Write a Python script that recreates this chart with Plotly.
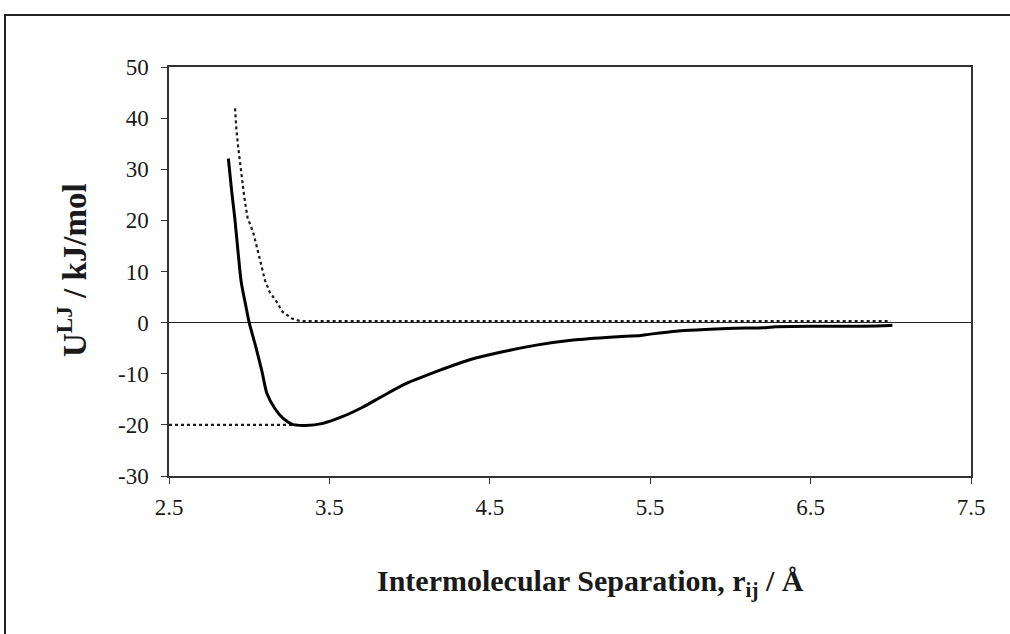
import plotly.graph_objects as go

# Lennard-Jones pair potential, full curve (kJ/mol vs Angstrom)
r_lj = [2.87, 2.89, 2.91, 2.93, 2.95, 2.98, 3.00, 3.04, 3.08, 3.11, 3.16, 3.21,
        3.27, 3.35, 3.46, 3.58, 3.71, 3.83, 3.98, 4.19, 4.37, 4.58, 4.79, 5.02,
        5.27, 5.44, 5.49, 5.69, 5.87, 6.02, 6.22, 6.28, 6.53, 6.74, 6.95, 7.01]
u_lj = [32.1, 25.9, 20.5, 14.0, 8.0, 3.1, 0.0, -4.6, -9.6, -13.8, -16.8, -18.7,
        -19.9, -20.1, -19.7, -18.4, -16.5, -14.4, -11.9, -9.3, -7.3, -5.7, -4.4, -3.4,
        -2.8, -2.5, -2.3, -1.6, -1.3, -1.1, -1.0, -0.8, -0.7, -0.7, -0.6, -0.5]

# Repulsive contribution only
r_rep = [2.912, 2.92, 2.933, 2.948, 2.958, 2.969, 2.979, 2.99, 3.0, 3.025, 3.042,
         3.058, 3.079, 3.098, 3.129, 3.167, 3.208, 3.267, 3.32, 3.5, 4.0, 5.0, 6.0, 7.0]
u_rep = [41.9, 37.8, 33.9, 29.7, 26.9, 24.6, 22.6, 20.5, 19.7, 17.6, 15.5,
         13.2, 10.8, 8.3, 5.9, 4.3, 2.1, 0.8, 0.3, 0.3, 0.3, 0.3, 0.3, 0.3]

# Well depth marker
r_eps = [2.5, 3.3]
u_eps = [-20, -20]

x_ticks = [2.5, 3.5, 4.5, 5.5, 6.5, 7.5]
y_ticks = [-30, -20, -10, 0, 10, 20, 30, 40, 50]

SERIF = "Liberation Serif, DejaVu Serif, serif"
INK = "#1a1a1a"

fig = go.Figure()
fig.add_trace(go.Scatter(x=r_eps, y=u_eps, mode="lines",
                         line=dict(color=INK, width=2.2, dash="dot"), hoverinfo="skip"))
fig.add_trace(go.Scatter(x=r_rep, y=u_rep, mode="lines",
                         line=dict(color=INK, width=2.2, dash="dot")))
fig.add_trace(go.Scatter(x=r_lj, y=u_lj, mode="lines",
                         line=dict(color="#000000", width=3, shape="spline", smoothing=0.7)))

fig.update_layout(
    width=1010, height=634,
    margin=dict(l=169, r=39, t=67, b=158),
    paper_bgcolor="white", plot_bgcolor="white",
    showlegend=False,
    font=dict(family=SERIF, color=INK, size=23),
)

fig.update_xaxes(
    range=[2.5, 7.5], tickvals=x_ticks, ticktext=[f"{v:.1f}" for v in x_ticks],
    ticks="outside", ticklen=6, tickcolor="#333", tickwidth=1.2,
    showline=True, linecolor="#333", linewidth=1.5, mirror=True,
    showgrid=False, zeroline=False, ticklabelstandoff=4,
    tickfont=dict(family=SERIF, size=23, color=INK),
)
fig.update_yaxes(
    range=[-30, 50], tickvals=y_ticks, ticktext=[str(v) for v in y_ticks],
    ticks="outside", ticklen=6, tickcolor="#333", tickwidth=1.2,
    showline=True, linecolor="#333", linewidth=1.5, mirror=True,
    showgrid=False, zeroline=True, zerolinecolor="#222", zerolinewidth=1.2,
    ticklabelstandoff=8,
    tickfont=dict(family=SERIF, size=23, color=INK),
)

# Axis titles
fig.add_annotation(text="<b>U<sup>LJ</sup> / kJ/mol</b>", xref="paper", yref="paper",
                   x=(72 - 169) / 802, y=(476 - 270) / 409, showarrow=False,
                   textangle=-90, font=dict(family=SERIF, size=33, color=INK),
                   xanchor="center", yanchor="middle")
fig.add_annotation(text="<b>Intermolecular Separation, r<sub>ij</sub> / Å</b>",
                   xref="paper", yref="paper",
                   x=(590 - 169) / 802, y=(476 - 583) / 409, showarrow=False,
                   font=dict(family=SERIF, size=30, color=INK),
                   xanchor="center", yanchor="middle")

# Outer figure frame (top and left edges)
fig.add_shape(type="path", xref="paper", yref="paper",
              path=f"M {(5 - 169) / 802} {(476 - 640) / 409} L {(5 - 169) / 802} {(476 - 15) / 409} "
                   f"L {(1015 - 169) / 802} {(476 - 15) / 409}",
              line=dict(color="#222", width=2))

fig.write_html("out.html")
